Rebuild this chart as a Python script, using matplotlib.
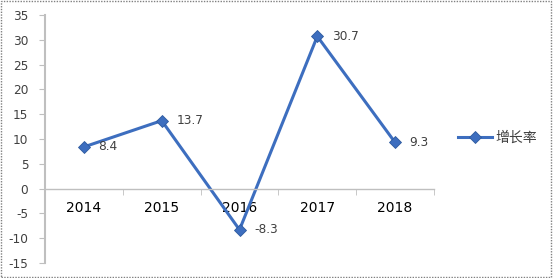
import matplotlib
matplotlib.use("Agg")
import matplotlib.pyplot as plt
from matplotlib.patches import Rectangle
from matplotlib.lines import Line2D

plt.rcParams['font.family'] = ['DejaVu Sans', 'Noto Sans CJK SC']

years = ["2014", "2015", "2016", "2017", "2018"]
growth = [8.4, 13.7, -8.3, 30.7, 9.3]
labels = ["8.4", "13.7", "-8.3", "30.7", "9.3"]
series_name = "增长率"
yticks = [-15, -10, -5, 0, 5, 10, 15, 20, 25, 30, 35]

color = "#3D6EBF"
grey = "#BFBFBF"
txt = "#404040"
fs = 8.7

fig = plt.figure(figsize=(5.53, 2.78), dpi=100)
ax = fig.add_axes([45/553, 1-263/278, (434-45)/553, (263-15)/278])

x = list(range(len(years)))
ax.plot(x, growth, color=color, lw=2.2, marker="D", ms=6.5,
        markerfacecolor=color, markeredgecolor="#2E5A9E", markeredgewidth=0.6)
for xi, yi, lab in zip(x, growth, labels):
    ax.annotate(lab, (xi, yi), xytext=(10.5, 0), textcoords="offset points",
                va="center", ha="left", fontsize=fs, color=txt)

ax.set_xlim(-0.5, len(years)-0.5)
ax.set_ylim(-15, 35)
ax.set_yticks(yticks)
ax.set_yticklabels([str(v) for v in yticks], fontsize=fs, color=txt)
ax.tick_params(axis="y", length=4, color=grey, pad=8)

ax.set_xticks(x)
ax.set_xticklabels(years, fontsize=fs, color=txt)
ax.tick_params(axis="x", which="major", length=0, pad=9)
ax.set_xticks([i - 0.5 for i in range(len(years)+1)], minor=True)
ax.tick_params(axis="x", which="minor", length=4, color=grey, direction="out")

for s in ["top", "right"]:
    ax.spines[s].set_visible(False)
ax.spines["bottom"].set_position(("data", 0))
ax.spines["bottom"].set_color(grey)
ax.spines["bottom"].set_linewidth(1.0)
ax.spines["left"].set_color(grey)
ax.spines["left"].set_linewidth(1.5)

# legend
handle = Line2D([], [], color=color, lw=2.2, marker="D", ms=6, markerfacecolor=color,
                markeredgecolor="#2E5A9E", markeredgewidth=0.6)
fig.legend([handle], [series_name], loc="center left",
           bbox_to_anchor=(445/553, 1-138/278), frameon=False,
           prop={'family': ['Noto Sans CJK SC'], 'size': 10},
           handlelength=2.5, handletextpad=0.2, labelcolor=txt)

# outer dotted border
fig.patches.append(Rectangle((0.002, 0.003), 0.994, 0.993, transform=fig.transFigure,
                             fill=False, edgecolor="#808080", lw=1.0, ls=(0, (1, 1))))

fig.savefig("out.png", dpi=100)
